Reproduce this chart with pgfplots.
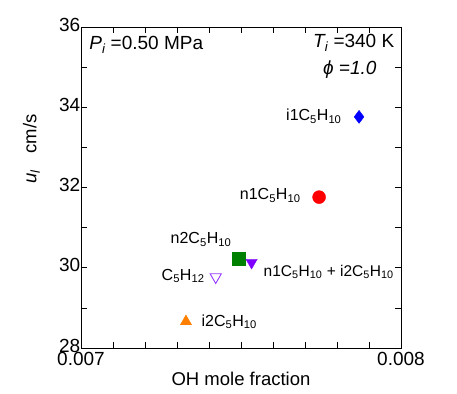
\documentclass[border=0pt]{standalone}
\usepackage{fontspec}
\setmainfont{Liberation Sans}
\usepackage{pgfplots}
\pgfplotsset{compat=1.18}
\definecolor{cgreen}{RGB}{0,128,0}
\definecolor{cviolet}{RGB}{128,0,255}
\definecolor{clviolet}{RGB}{150,60,255}
\definecolor{corange}{RGB}{255,128,0}
\newcommand\sub[1]{\textsubscript{#1}}
\begin{document}
\begin{tikzpicture}
\begin{axis}[
  scale only axis, width=320pt, height=321pt,
  xmin=0.007, xmax=0.008, ymin=28, ymax=36,
  xtick={0.007,0.008}, xticklabels={0.007,0.008},
  scaled x ticks=false,
  minor x tick num=9,
  ytick={28,30,32,34,36}, minor y tick num=1,
  tick align=inside,
  major tick length=6pt, minor tick length=6pt,
  tick style={black, line width=0.6pt},
  axis line style={line width=0.8pt},
  /pgf/number format/assume math mode=true,
  tick label style={font=\fontsize{19}{21}\selectfont},
  yticklabel style={inner sep=0.5pt, yshift=2.5pt},
  xticklabel style={inner sep=1pt, yshift=-3.5pt},
  xlabel={OH mole fraction},
  xlabel style={at={(axis description cs:0.5,-0.097)}, anchor=center, font=\fontsize{18.5}{21}\selectfont},
  ylabel={{\itshape u}\sub{\itshape l}\hspace{0.9em}cm/s},
  ylabel style={at={(axis description cs:-0.155,0.62)}, anchor=center, font=\fontsize{18.5}{21}\selectfont},
  clip=false,
]
\addplot[only marks, mark=*, mark size=6.5pt, color=red] coordinates {(0.007744,31.76)};
\addplot[only marks, mark=diamond*, mark size=6.5pt, color=blue] coordinates {(0.007869,33.76)};
\addplot[only marks, mark=square*, mark size=6.5pt, color=cgreen] coordinates {(0.007492,30.23)};
\addplot[only marks, mark=triangle*, mark size=6.5pt, color=cviolet, mark options={rotate=180}] coordinates {(0.007533,30.13)};
\addplot[only marks, mark=triangle, mark size=6.5pt, color=clviolet, mark options={rotate=180, line width=0.9pt}] coordinates {(0.007421,29.77)};
\addplot[only marks, mark=triangle*, mark size=6.5pt, color=corange] coordinates {(0.007328,28.66)};

\node[anchor=west, font=\fontsize{19}{21}\selectfont] at (axis description cs:0.015,0.944) {{\itshape P}\sub{\itshape i} =0.50 MPa};
\node[anchor=east, font=\fontsize{19}{21}\selectfont] at (axis description cs:0.99,0.95) {{\itshape T}\sub{\itshape i} =340 K};
\node[anchor=center, font=\fontsize{19}{21}\selectfont\itshape] at (axis description cs:0.84,0.866) {ϕ =1.0};

\node[anchor=east, font=\fontsize{16}{18}\selectfont] at (axis cs:0.007825,33.78) {i1C\sub{5}H\sub{10}};
\node[anchor=east, font=\fontsize{16}{18}\selectfont] at (axis cs:0.007697,31.8) {n1C\sub{5}H\sub{10}};
\node[anchor=center, font=\fontsize{16}{18}\selectfont] at (axis cs:0.007375,30.7) {n2C\sub{5}H\sub{10}};
\node[anchor=east, font=\fontsize{16}{18}\selectfont] at (axis cs:0.007397,29.8) {C\sub{5}H\sub{12}};
\node[anchor=west, font=\fontsize{15.5}{18}\selectfont] at (axis cs:0.00756,29.9) {n1C\sub{5}H\sub{10} + i2C\sub{5}H\sub{10}};
\node[anchor=west, font=\fontsize{16}{18}\selectfont] at (axis cs:0.007366,28.65) {i2C\sub{5}H\sub{10}};
\end{axis}
\pgfresetboundingbox
\path ([shift={(-81pt,-45pt)}]current axis.south west) rectangle ([shift={(56pt,27pt)}]current axis.north east);
\end{tikzpicture}
\end{document}
